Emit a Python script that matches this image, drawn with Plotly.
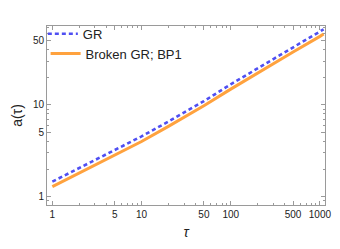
import plotly.graph_objects as go

tau = [1, 2, 5, 10, 20, 50, 100, 200, 500, 1000, 1100]
a_gr = [1.46, 2.05, 3.22, 4.55, 6.6, 11.0, 16.8, 25.2, 42.5, 63.5, 66.8]
a_broken = [1.29, 1.81, 2.83, 4.0, 5.85, 9.8, 14.9, 22.4, 37.8, 56.0, 59.3]

x_tickvals = [1, 5, 10, 50, 100, 500, 1000]
x_ticklabels = ["1", "5", "10", "50", "100", "500", "1000"]
x_minor = [2, 3, 4, 6, 7, 8, 9, 20, 30, 40, 60, 70, 80, 90, 200, 300, 400, 600, 700, 800, 900]
y_tickvals = [1, 5, 10, 50]
y_ticklabels = ["1", "5", "10", "50"]
y_minor = [0.9, 2, 3, 4, 6, 7, 8, 9, 20, 30, 40, 60, 70]

font = "Liberation Sans, Arial, sans-serif"
frame = "#9a9a9a"

fig = go.Figure()
fig.add_trace(go.Scatter(x=tau, y=a_gr, mode="lines", name="GR", legend="legend",
                         line=dict(color="#4f4ff2", width=2.6, dash="4px,3px")))
fig.add_trace(go.Scatter(x=tau, y=a_broken, mode="lines", name="Broken GR; BP1",
                         legend="legend2",
                         line=dict(color="#ffa23e", width=3)))

axis_common = dict(
    type="log", showgrid=False, zeroline=False, showline=True, linecolor=frame,
    linewidth=1, mirror="ticks", ticks="inside", ticklen=4, tickcolor=frame,
    tickfont=dict(family=font, size=10, color="#222"),
)
fig.update_xaxes(**axis_common, range=[-0.06, 3.057], tickvals=x_tickvals,
                 ticktext=x_ticklabels,
                 minor=dict(tickvals=x_minor, ticks="inside", ticklen=2, tickcolor=frame),
                 title=dict(text="<i>τ</i>", font=dict(family=font, size=14, color="#222"),
                            standoff=8))
fig.update_yaxes(**axis_common, range=[-0.09, 1.861], tickvals=y_tickvals,
                 ticktext=y_ticklabels,
                 minor=dict(tickvals=y_minor, ticks="inside", ticklen=2, tickcolor=frame),
                 title=dict(text="a(τ)", font=dict(family=font, size=14, color="#222"),
                            standoff=6))

legend_common = dict(xanchor="left", yanchor="top", bgcolor="rgba(0,0,0,0)",
                     font=dict(family=font, size=13, color="#222"), itemwidth=30)

fig.update_layout(
    width=332, height=241,
    margin=dict(l=33, r=9, t=18, b=44),
    paper_bgcolor="white", plot_bgcolor="white",
    showlegend=True,
    legend=dict(x=-0.015, y=1.04, **legend_common),
    legend2=dict(x=-0.005, y=0.93, **legend_common),
)

fig.write_html("out.html")
